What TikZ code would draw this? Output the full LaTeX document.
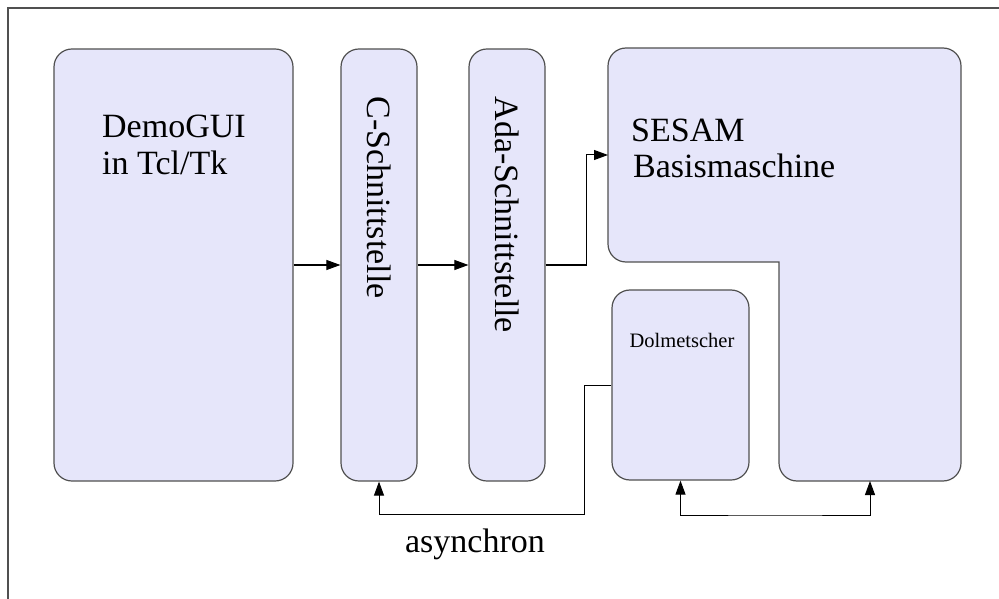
\documentclass[tikz,border=0pt]{standalone}
\usepackage{fontspec}
\setmainfont{Liberation Serif}
\usetikzlibrary{arrows.meta}
\definecolor{boxfill}{RGB}{230,230,250}
\definecolor{boxline}{RGB}{80,80,80}
\begin{document}
\begin{tikzpicture}[x=1bp,y=-1bp,
  blockbox/.style={draw=boxline,line width=1.2bp,fill=boxfill,rectangle,
    rounded corners=18bp,inner sep=0pt},
  bigtext/.style={font=\fontsize{34bp}{37bp}\selectfont,inner sep=0pt},
  smalltext/.style={font=\fontsize{20.5bp}{23bp}\selectfont,inner sep=0pt},
  conn/.style={draw=black,line width=1bp},
  tip/.style={-{Triangle[length=14bp,width=10bp]}},
  bothtips/.style={{Triangle[length=14bp,width=10bp]}-{Triangle[length=14bp,width=10bp]}}]
  \useasboundingbox (0,0) rectangle (999,599);

  % outer frame
  \draw[line width=1.2bp,draw=boxline] (8,620) -- (8,8) -- (1020,8);

  % blocks
  \node[blockbox,minimum width=239bp,minimum height=432bp] (gui) at (173.5,265) {};
  \node[blockbox,minimum width=76bp,minimum height=432bp] (cs) at (379,265) {};
  \node[blockbox,minimum width=76bp,minimum height=432bp] (ada) at (507,265) {};
  \node[blockbox,minimum width=137bp,minimum height=190bp] (dolm) at (680.5,385) {};

  % L-shaped SESAM block, sharp inner corner
  \filldraw[draw=boxline,line width=1.2bp,fill=boxfill]
    (779,370) [rounded corners=18bp] -- (779,481) -- (961,481) -- (961,48)
    -- (608,48) -- (608,262) [sharp corners] -- (779,262) -- cycle;
  \coordinate (sesamIn) at (608,155);
  \coordinate (sesamBot) at (870,481);

  % labels
  \node[bigtext,anchor=base west] (guiA) at (102,138) {DemoGUI};
  \node[bigtext,anchor=base west] (guiB) at (102,175) {in Tcl/Tk};
  \node[bigtext,rotate=-90] (csT) at (379,197.5) {C-Schnittstelle};
  \node[bigtext,rotate=-90] (adaT) at (507,215) {Ada-Schnittstelle};
  \node[bigtext,anchor=base west] (sesA) at (631,142) {SESAM};
  \node[bigtext,anchor=base west] (sesB) at (633,178) {Basismaschine};
  \node[smalltext,anchor=base] (dolmT) at (682,347) {Dolmetscher};
  \node[bigtext,anchor=base] (async) at (475,552) {asynchron};

  % connectors
  \coordinate (busA) at (584,514);
  \coordinate (busB) at (775,515);
  \draw[conn,tip] (gui.east) -- (cs.west);
  \draw[conn,tip] (cs.east) -- (ada.west);
  \draw[conn,tip] (ada.east) -- ++(41,0) |- (sesamIn);
  \draw[conn,tip] (dolm.west) -| (busA) -| (cs.south);
  \draw[conn,bothtips] (dolm.south) |- (busB) -| (sesamBot);
\end{tikzpicture}
\end{document}
